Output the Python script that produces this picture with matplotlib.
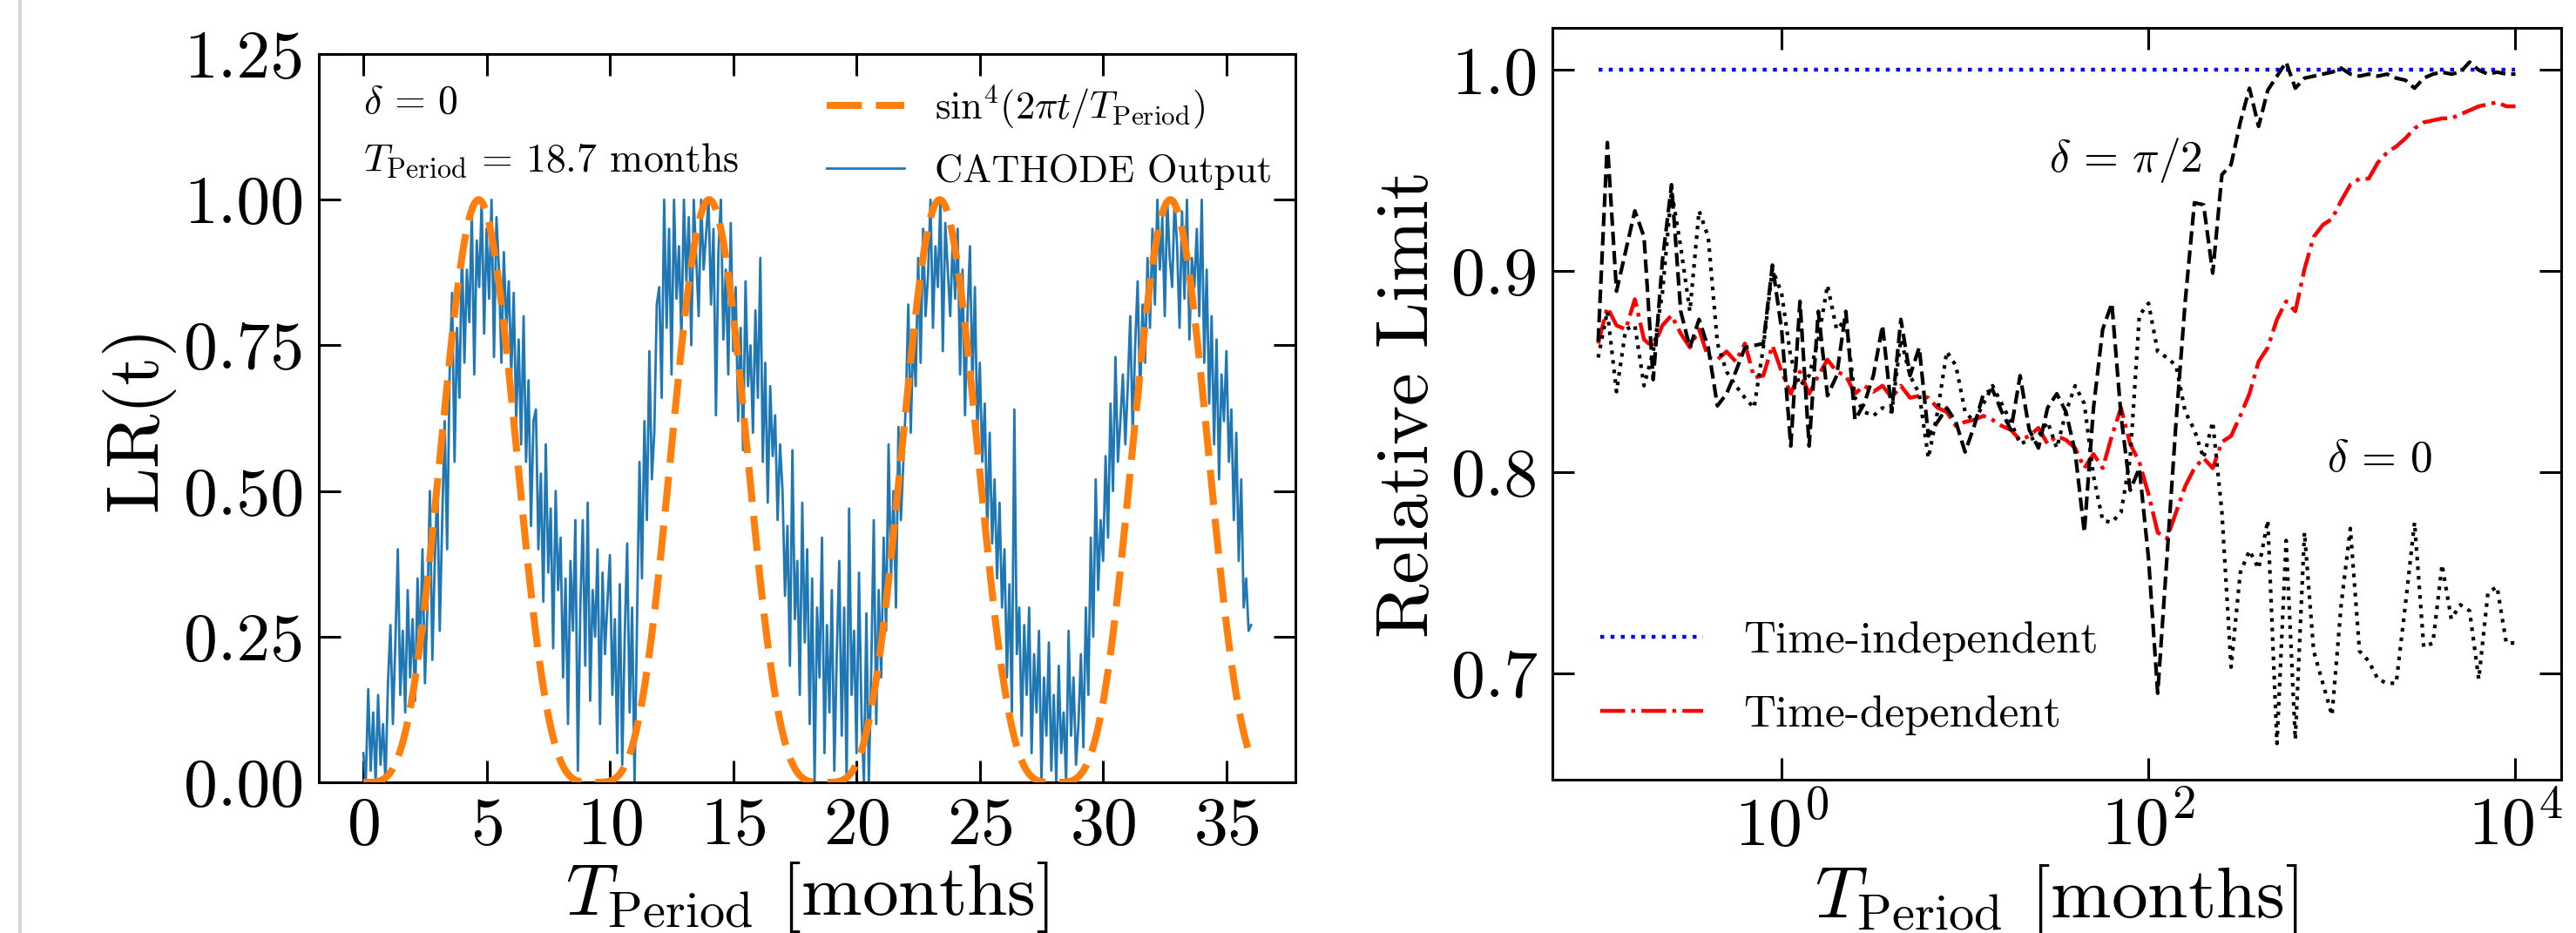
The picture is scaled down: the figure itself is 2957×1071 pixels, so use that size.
import numpy as np
import matplotlib.pyplot as plt
from matplotlib.lines import Line2D

plt.rcParams['font.family'] = 'serif'
plt.rcParams['font.serif'] = ['cmr10']
plt.rcParams['mathtext.fontset'] = 'cm'
plt.rcParams['axes.formatter.use_mathtext'] = True

T_PERIOD = 18.7

# CATHODE output LR(t), ten samples per month
cathode_lr = [
    0.05, 0.00, 0.16, 0.02, 0.12, 0.00, 0.15, 0.03, 0.10, 0.00,
    0.17, 0.27, 0.10, 0.24, 0.40, 0.15, 0.26, 0.12, 0.33, 0.18,
    0.28, 0.14, 0.35, 0.22, 0.40, 0.17, 0.30, 0.50, 0.21, 0.38,
    0.51, 0.26, 0.45, 0.62, 0.40, 0.70, 0.84, 0.55, 0.78, 0.66,
    0.92, 0.72, 0.88, 0.79, 0.98, 0.70, 0.93, 0.85, 1.00, 0.77,
    0.95, 0.83, 1.00, 0.73, 0.97, 0.88, 0.72, 0.91, 0.78, 0.86,
    0.70, 0.84, 0.62, 0.76, 0.58, 0.80, 0.55, 0.69, 0.44, 0.62,
    0.64, 0.40, 0.53, 0.31, 0.58, 0.36, 0.47, 0.23, 0.50, 0.33,
    0.42, 0.18, 0.35, 0.10, 0.38, 0.26, 0.45, 0.02, 0.30, 0.45,
    0.20, 0.48, 0.14, 0.33, 0.25, 0.40, 0.10, 0.36, 0.22, 0.31,
    0.39, 0.15, 0.28, 0.05, 0.34, 0.03, 0.25, 0.41, 0.12, 0.30,
    0.00, 0.28, 0.55, 0.35, 0.62, 0.45, 0.74, 0.52, 0.60, 0.82,
    0.85, 0.66, 1.00, 0.78, 0.95, 0.70, 1.00, 0.83, 0.92, 0.76,
    1.00, 0.86, 0.97, 0.75, 1.00, 0.90, 0.80, 1.00, 0.88, 0.94,
    1.00, 0.82, 0.95, 0.63, 0.91, 1.00, 0.76, 0.88, 0.70, 0.96,
    0.74, 0.85, 0.62, 0.78, 0.57, 0.86, 0.68, 0.75, 0.60, 0.81,
    0.66, 0.90, 0.55, 0.72, 0.48, 0.68, 0.56, 0.63, 0.45, 0.58,
    0.50, 0.32, 0.44, 0.20, 0.57, 0.28, 0.38, 0.15, 0.48, 0.24,
    0.40, 0.10, 0.35, 0.00, 0.30, 0.18, 0.42, 0.05, 0.27, 0.12,
    0.33, 0.02, 0.22, 0.38, 0.08, 0.30, 0.00, 0.47, 0.15, 0.26,
    0.05, 0.36, 0.12, 0.00, 0.29, 0.00, 0.20, 0.45, 0.10, 0.33,
    0.18, 0.42, 0.26, 0.58, 0.35, 0.50, 0.30, 0.61, 0.45, 0.55,
    0.65, 0.82, 0.60, 0.77, 0.68, 0.90, 0.72, 0.95, 0.80, 0.87,
    1.00, 0.78, 0.92, 0.85, 1.00, 0.74, 0.96, 0.88, 0.80, 0.93,
    0.83, 0.95, 0.70, 0.88, 0.63, 0.80, 0.92, 0.68, 0.85, 0.60,
    0.72, 0.55, 0.65, 0.43, 0.60, 0.41, 0.52, 0.35, 0.48, 0.30,
    0.40, 0.18, 0.34, 0.12, 0.64, 0.22, 0.30, 0.08, 0.27, 0.15,
    0.30, 0.05, 0.22, 0.12, 0.26, 0.00, 0.18, 0.08, 0.24, 0.02,
    0.15, 0.00, 0.20, 0.05, 0.12, 0.00, 0.26, 0.08, 0.18, 0.03,
    0.10, 0.22, 0.06, 0.30, 0.15, 0.42, 0.25, 0.52, 0.33, 0.45,
    0.38, 0.56, 0.42, 0.65, 0.50, 0.73, 0.55, 0.62, 0.70, 0.58,
    0.68, 0.80, 0.60, 0.75, 0.86, 0.66, 0.82, 0.72, 0.90, 0.78,
    0.95, 0.82, 1.00, 0.88, 0.97, 0.80, 1.00, 0.90, 0.85, 1.00,
    0.92, 0.78, 0.98, 0.83, 1.00, 0.76, 0.90, 0.85, 0.95, 0.80,
    1.00, 0.72, 0.88, 0.65, 0.80, 0.58, 0.76, 0.52, 0.70, 0.62,
    0.74, 0.55, 0.64, 0.45, 0.60, 0.38, 0.52, 0.30, 0.35, 0.26,
    0.27,
]
months = np.linspace(0, 36, len(cathode_lr))

# relative limits vs. period, 101 log-spaced periods from 0.1 to 1e4 months
period_grid = np.logspace(-1, 4, 101)
time_independent = 1.0
delta_half_pi = [
    0.865, 0.964, 0.890, 0.910, 0.930, 0.917, 0.846, 0.905, 0.943, 0.880,
    0.862, 0.876, 0.862, 0.833, 0.839, 0.850, 0.862, 0.863, 0.864, 0.903,
    0.871, 0.813, 0.885, 0.813, 0.880, 0.838, 0.848, 0.880, 0.826, 0.834,
    0.848, 0.873, 0.830, 0.876, 0.848, 0.862, 0.818, 0.825, 0.832, 0.825,
    0.810, 0.823, 0.839, 0.841, 0.830, 0.821, 0.848, 0.821, 0.812, 0.832,
    0.839, 0.830, 0.810, 0.770, 0.832, 0.871, 0.884, 0.828, 0.791, 0.802,
    0.757, 0.690, 0.757, 0.825, 0.885, 0.934, 0.933, 0.899, 0.948, 0.953,
    0.974, 0.991, 0.972, 0.990, 0.997, 1.004, 0.991, 0.996, 0.997, 0.998,
    0.999, 1.001, 0.998, 0.997, 0.998, 0.997, 0.998, 0.996, 0.995, 0.991,
    0.996, 0.998, 0.999, 0.998, 0.999, 1.004, 1.000, 0.998, 0.999, 0.998,
    0.998,
]
delta_zero = [
    0.857, 0.880, 0.840, 0.871, 0.873, 0.843, 0.860, 0.889, 0.940, 0.912,
    0.880, 0.930, 0.917, 0.864, 0.850, 0.843, 0.837, 0.832, 0.862, 0.901,
    0.889, 0.857, 0.843, 0.848, 0.866, 0.893, 0.871, 0.876, 0.837, 0.830,
    0.828, 0.832, 0.830, 0.866, 0.848, 0.839, 0.807, 0.830, 0.860, 0.853,
    0.830, 0.825, 0.834, 0.843, 0.834, 0.825, 0.814, 0.816, 0.818, 0.825,
    0.812, 0.830, 0.843, 0.834, 0.798, 0.776, 0.775, 0.780, 0.807, 0.878,
    0.884, 0.860, 0.857, 0.853, 0.830, 0.821, 0.807, 0.825, 0.780, 0.703,
    0.750, 0.761, 0.752, 0.776, 0.665, 0.766, 0.667, 0.770, 0.711, 0.695,
    0.679, 0.734, 0.772, 0.711, 0.706, 0.697, 0.695, 0.695, 0.734, 0.775,
    0.713, 0.715, 0.754, 0.727, 0.734, 0.731, 0.697, 0.740, 0.743, 0.715,
    0.715,
]
time_dependent = [
    0.864, 0.882, 0.873, 0.871, 0.886, 0.866, 0.862, 0.873, 0.878, 0.869,
    0.862, 0.871, 0.857, 0.856, 0.860, 0.855, 0.864, 0.847, 0.848, 0.863,
    0.850, 0.839, 0.850, 0.839, 0.848, 0.856, 0.850, 0.848, 0.839, 0.843,
    0.840, 0.843, 0.837, 0.843, 0.837, 0.838, 0.837, 0.832, 0.830, 0.823,
    0.825, 0.826, 0.828, 0.826, 0.823, 0.821, 0.816, 0.818, 0.822, 0.814,
    0.818, 0.816, 0.812, 0.802, 0.809, 0.802, 0.818, 0.832, 0.814, 0.805,
    0.789, 0.770, 0.767, 0.780, 0.793, 0.802, 0.807, 0.802, 0.815, 0.818,
    0.828, 0.839, 0.855, 0.862, 0.876, 0.885, 0.880, 0.901, 0.917, 0.923,
    0.926, 0.935, 0.943, 0.946, 0.946, 0.954, 0.959, 0.962, 0.966, 0.971,
    0.974, 0.975, 0.976, 0.976, 0.978, 0.980, 0.982, 0.983, 0.984, 0.982,
    0.982,
]


def style_axes(ax):
    ax.tick_params(which='both', direction='in', top=True, right=True,
                   length=18, width=2.2, pad=12, labelsize=56)
    for spine in ax.spines.values():
        spine.set_linewidth(2.2)


def plot_left(ax):
    t_fine = np.linspace(0, 36, 1441)
    ax.plot(t_fine, np.sin(2 * np.pi * t_fine / T_PERIOD) ** 4,
            color='#ff7f0e', linestyle='--', dashes=(5, 2), linewidth=5.8,
            zorder=3, label=r'$\mathrm{sin}^4(2\pi t/T_{\rm Period})$')
    ax.plot(months, cathode_lr, color='#1f77b4', linewidth=2.0,
            label='CATHODE Output')
    ax.set_xlim(-1.8, 37.8)
    ax.set_ylim(0, 1.25)
    ax.set_xticks(range(0, 36, 5))
    ax.set_yticks([0, 0.25, 0.5, 0.75, 1.0, 1.25])
    ax.set_yticklabels(['0.00', '0.25', '0.50', '0.75', '1.00', '1.25'])
    ax.set_ylabel('LR(t)', fontsize=61, labelpad=8)
    ax.set_xlabel(r'$T_{\rm Period}$ [months]', fontsize=60, labelpad=2)
    ax.text(0.045, 0.919, r'$\delta\,=\,0$', transform=ax.transAxes,
            fontsize=33, va='baseline')
    ax.text(0.045, 0.838, r'$T_{\rm Period}\,=\,18.7$ months',
            transform=ax.transAxes, fontsize=33, va='baseline')
    ax.legend(loc='upper right', frameon=False, fontsize=32,
              borderaxespad=0.2, bbox_to_anchor=(1.0, 0.99),
              labelspacing=0.6)
    style_axes(ax)


def plot_right(ax):
    ax.plot(period_grid, np.full(len(period_grid), time_independent),
            color='blue', linestyle=':', linewidth=3.2,
            label='Time-independent')
    ax.plot(period_grid, time_dependent, color='red', linestyle='-.',
            linewidth=3.2, label='Time-dependent')
    ax.plot(period_grid, delta_half_pi, color='black', linestyle='--',
            linewidth=3.0)
    ax.plot(period_grid, delta_zero, color='black', linestyle=':',
            linewidth=3.0)
    ax.set_xscale('log')
    ax.set_xlim(10 ** -1.25, 10 ** 4.25)
    ax.set_ylim(0.647, 1.021)
    ax.set_xticks([1, 1e2, 1e4])
    ax.xaxis.set_minor_locator(plt.NullLocator())
    ax.set_yticks([0.7, 0.8, 0.9, 1.0])
    ax.set_yticklabels(['0.7', '0.8', '0.9', '1.0'])
    ax.set_ylabel('Relative Limit', fontsize=61, labelpad=8)
    ax.set_xlabel(r'$T_{\rm Period}$ [months]', fontsize=60, labelpad=2)
    ax.text(75, 0.955, r'$\delta\,=\,\pi/2$', fontsize=37, ha='center',
            va='center')
    ax.text(1820, 0.806, r'$\delta\,=\,0$', fontsize=37, ha='center',
            va='center')
    ax.legend(loc='center left', frameon=False, fontsize=37,
              handlelength=2.3, handletextpad=0.9, labelspacing=0.75,
              borderaxespad=0.0, bbox_to_anchor=(0.03, 0.135))
    style_axes(ax)


fig = plt.figure(figsize=(29.57, 10.71), dpi=100)
ax1 = fig.add_axes([0.1238, 0.1615, 0.3791, 0.7806])
ax2 = fig.add_axes([0.6026, 0.1643, 0.3917, 0.8058])
plot_left(ax1)
plot_right(ax2)
fig.add_artist(Line2D([0.0078, 0.0078], [0, 1], transform=fig.transFigure,
                      color='#d2d3dc', linewidth=3))
fig.savefig('out.png', dpi=100)
